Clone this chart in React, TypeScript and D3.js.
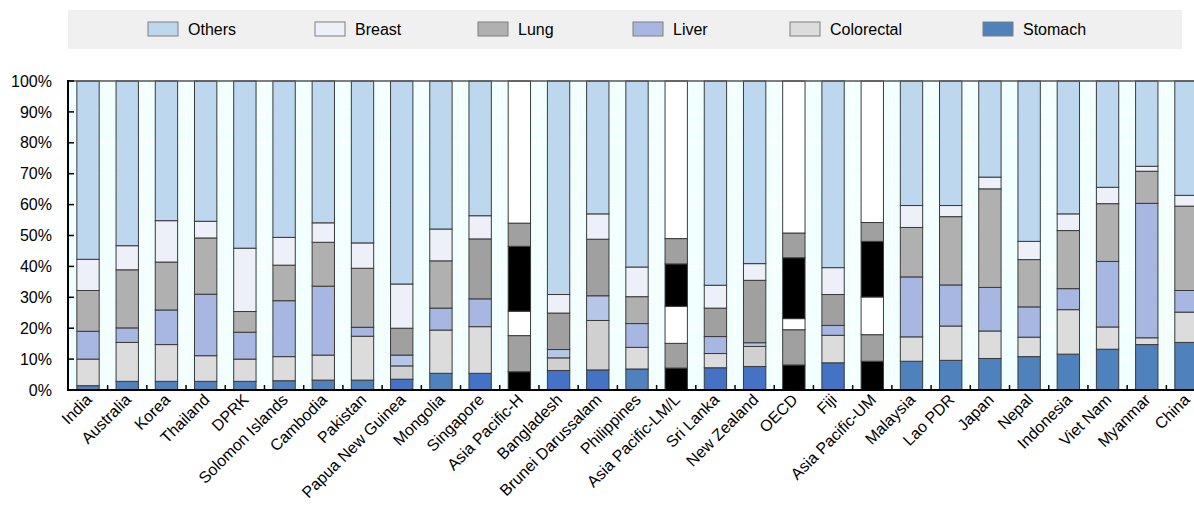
import React from "react";
import * as d3 from "d3";

const CATEGORIES = [
  "India", "Australia", "Korea", "Thailand", "DPRK", "Solomon Islands", "Cambodia", "Pakistan",
  "Papua New Guinea", "Mongolia", "Singapore", "Asia Pacific-H", "Bangladesh", "Brunei Darussalam",
  "Philippines", "Asia Pacific-LM/L", "Sri Lanka", "New Zealand", "OECD", "Fiji", "Asia Pacific-UM",
  "Malaysia", "Lao PDR", "Japan", "Nepal", "Indonesia", "Viet Nam", "Myanmar", "China",
];

const STOMACH = [1.4, 2.8, 2.8, 2.8, 2.8, 3.0, 3.2, 3.2, 3.5, 5.4, 5.4, 5.9, 6.3, 6.5, 6.8, 7.1, 7.2, 7.6, 8.1, 8.8, 9.3, 9.3, 9.6, 10.2, 10.8, 11.6, 13.2, 14.7, 15.4];
const COLORECTAL = [8.6, 12.6, 11.9, 8.3, 7.2, 7.8, 8.1, 14.2, 4.3, 14.0, 15.1, 11.7, 4.1, 16.0, 7.0, 8.0, 4.6, 6.5, 11.4, 8.9, 8.6, 7.9, 11.1, 8.9, 6.3, 14.4, 7.2, 2.2, 9.8];
const LIVER = [9.0, 4.7, 11.2, 19.9, 8.7, 18.1, 22.3, 2.9, 3.5, 7.1, 9.0, 7.9, 2.7, 8.0, 7.7, 12.0, 5.5, 1.2, 3.6, 3.2, 12.2, 19.4, 13.3, 14.1, 9.8, 6.8, 21.2, 43.5, 7.0];
const LUNG = [13.2, 18.8, 15.5, 18.2, 6.7, 11.5, 14.2, 19.1, 8.7, 15.3, 19.4, 21.0, 11.8, 18.3, 8.7, 13.7, 9.2, 20.2, 19.7, 10.0, 18.0, 16.0, 22.1, 31.9, 15.3, 18.8, 18.7, 10.4, 27.3];
const BREAST = [10.1, 7.8, 13.4, 5.4, 20.5, 9.0, 6.3, 8.2, 14.3, 10.3, 7.5, 7.5, 6.0, 8.2, 9.6, 8.2, 7.4, 5.4, 8.0, 8.7, 6.1, 7.1, 3.6, 3.8, 5.9, 5.4, 5.3, 1.6, 3.5];
const OTHERS = [57.7, 53.3, 45.2, 45.4, 54.1, 50.6, 45.9, 52.4, 65.7, 47.9, 43.6, 46.0, 69.1, 43.0, 60.2, 51.0, 66.1, 59.1, 49.2, 60.4, 45.8, 40.3, 40.3, 31.1, 51.9, 43.0, 34.4, 27.6, 37.0];

const SERIES = ["Stomach", "Colorectal", "Liver", "Lung", "Breast", "Others"];
const LEGEND_ORDER = ["Others", "Breast", "Lung", "Liver", "Colorectal", "Stomach"];
const Y_TICKS = [0, 10, 20, 30, 40, 50, 60, 70, 80, 90, 100];

const AGGREGATES = ["Asia Pacific-H", "Asia Pacific-LM/L", "OECD", "Asia Pacific-UM"];
const SHADE_A = ["Papua New Guinea", "Singapore", "Bangladesh", "Brunei Darussalam", "Sri Lanka", "New Zealand", "Fiji"];
const SHADE_B = ["Papua New Guinea", "Bangladesh", "Brunei Darussalam", "New Zealand"];

const BASE_COLORS: Record<string, string> = {
  Others: "#bdd7ee",
  Breast: "#edf0f8",
  Lung: "#b0b0b0",
  Liver: "#a7b7e2",
  Colorectal: "#dcdcdc",
  Stomach: "#4f81bd",
};
const AGG_COLORS: Record<string, string> = {
  Others: "#ffffff",
  Breast: "#a0a0a0",
  Lung: "#000000",
  Liver: "#ffffff",
  Colorectal: "#a0a0a0",
  Stomach: "#000000",
};

function colorFor(cat: string, key: string): string {
  if (AGGREGATES.includes(cat)) return AGG_COLORS[key];
  if (SHADE_A.includes(cat)) {
    if (key === "Stomach") return "#4472c4";
    if (key === "Lung") return "#a0a0a0";
  }
  if (SHADE_B.includes(cat)) {
    if (key === "Liver") return "#b4c7e7";
    if (key === "Colorectal") return "#d0d0d0";
  }
  return BASE_COLORS[key];
}

const W = 1194;
const H = 506;
const LEFT = 68;
const TOP = 81;
const BOTTOM = 390;
const FONT = "'Liberation Sans', Arial, sans-serif";
const LEGEND_X = [148, 315, 478, 633, 790, 983];

export default function App() {
  const rows = CATEGORIES.map((c, i) => ({
    cat: c,
    Stomach: STOMACH[i],
    Colorectal: COLORECTAL[i],
    Liver: LIVER[i],
    Lung: LUNG[i],
    Breast: BREAST[i],
    Others: OTHERS[i],
  }));
  const x = d3.scaleBand<string>().domain(CATEGORIES).range([LEFT + 1, W + 11]).paddingInner(0.43).paddingOuter(0.2);
  const y = d3.scaleLinear().domain([0, 100]).range([BOTTOM, TOP]);
  const stack = d3.stack<any>().keys(SERIES);
  const layers = stack(rows);
  const bw = x.bandwidth();
  const step = x.step();

  return (
    <svg width={W} height={H} style={{ position: "absolute", left: 0, top: 0, background: "#fff" }} fontFamily={FONT}>
      {/* legend */}
      <rect x={68} y={10} width={1114} height={39} fill="#f0f0f0" />
      {LEGEND_ORDER.map((k, i) => (
        <g key={k} transform={`translate(${LEGEND_X[i]},22)`}>
          <rect x={0} y={0} width={30} height={14} fill={BASE_COLORS[k]} stroke="#7f7f7f" strokeWidth={1} />
          <text x={40} y={7} dy="0.35em" fontSize={16} fill="#000">{k}</text>
        </g>
      ))}

      {/* plot background */}
      <rect x={LEFT} y={TOP} width={W - LEFT} height={BOTTOM - TOP} fill="#f2ffff" />
      {Y_TICKS.map((t) => (
        <line key={"g" + t} x1={LEFT} x2={W} y1={y(t)} y2={y(t)} stroke="#ffffff" strokeWidth={1} />
      ))}
      {CATEGORIES.slice(0, -1).map((c) => {
        const gx = (x(c) as number) + bw + (step - bw) / 2;
        return <line key={"vg" + c} x1={gx} x2={gx} y1={TOP} y2={BOTTOM} stroke="#ffffff" strokeWidth={1} />;
      })}

      {/* bars */}
      {layers.map((layer) => (
        <g key={layer.key}>
          {layer.map((d: any, i: number) => {
            const cat = CATEGORIES[i];
            return (
              <rect
                key={cat}
                x={x(cat)}
                y={y(d[1])}
                width={bw}
                height={y(d[0]) - y(d[1])}
                fill={colorFor(cat, layer.key)}
                stroke="#3a3a3a"
                strokeWidth={1}
              />
            );
          })}
        </g>
      ))}

      {/* top frame line */}
      <line x1={LEFT} x2={W} y1={TOP} y2={TOP} stroke="#555" strokeWidth={1.5} />

      {/* axes */}
      <line x1={LEFT} x2={LEFT} y1={TOP - 1} y2={BOTTOM + 1} stroke="#000" strokeWidth={2} />
      <line x1={LEFT - 1} x2={W} y1={BOTTOM} y2={BOTTOM} stroke="#000" strokeWidth={2} />
      {Y_TICKS.map((t) => (
        <g key={"yt" + t}>
          <line x1={LEFT} x2={LEFT + 6} y1={y(t)} y2={y(t)} stroke="#000" strokeWidth={1.5} />
          <text x={52} y={y(t)} dy="0.35em" textAnchor="end" fontSize={16} fill="#000">{t}%</text>
        </g>
      ))}
      {CATEGORIES.slice(0, -1).map((c) => {
        const gx = (x(c) as number) + bw + (step - bw) / 2;
        return <line key={"xt" + c} x1={gx} x2={gx} y1={BOTTOM} y2={BOTTOM - 5} stroke="#000" strokeWidth={1.5} />;
      })}
      {CATEGORIES.map((c) => {
        const cx = (x(c) as number) + bw / 2;
        return (
          <text
            key={"xl" + c}
            transform={`translate(${cx - 2},${BOTTOM + 4}) rotate(-45)`}
            textAnchor="end"
            dy="0.6em"
            fontSize={16}
            fill="#000"
          >
            {c}
          </text>
        );
      })}
    </svg>
  );
}
